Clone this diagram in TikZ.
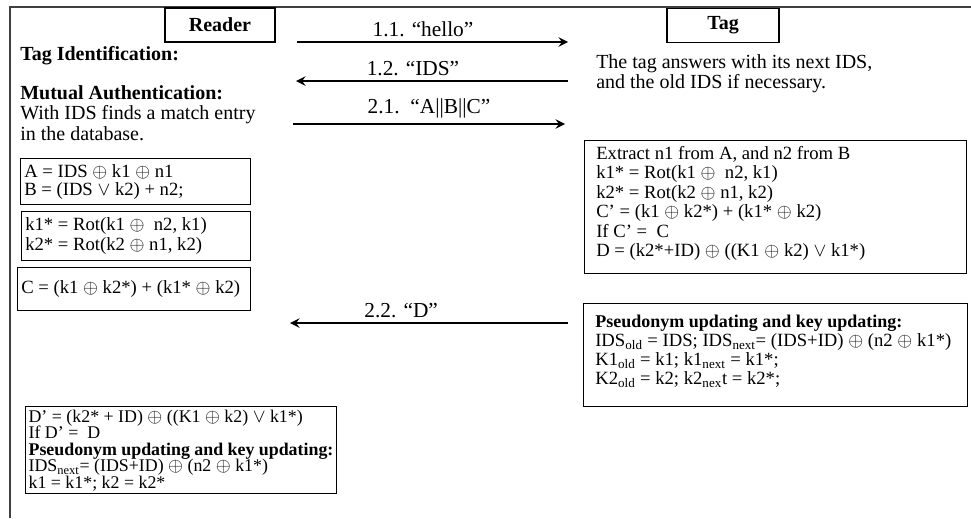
\documentclass[tikz,border=0pt]{standalone}
\usepackage{fontspec}
\setmainfont{Liberation Serif}
\usetikzlibrary{positioning,arrows}

\begin{document}
\begin{tikzpicture}[x=0.75pt, y=-0.75pt, >=stealth,
    actor/.style={draw, line width=0.8pt, minimum width=82.5pt,
      minimum height=25.5pt, font=\fontsize{15}{18}\selectfont\bfseries},
    msg/.style={->, line width=2.1pt},
    lbl/.style={above=2pt, inner sep=1pt, font=\fontsize{16}{18}\selectfont},
    note/.style={anchor=north west, align=left, inner sep=0pt,
      font=\fontsize{15}{15.4}\selectfont},
    panel/.style={draw, line width=0.8pt, anchor=north west, inner sep=0pt},
    calctext/.style={align=left, inner sep=0pt, font=\fontsize{14}{15}\selectfont,
      execute at begin node={\lineskiplimit=-10pt}}]

  \useasboundingbox (0,0) rectangle (971,518);
  \draw[black!75, line width=0.9pt] (10,518) -- (10,7) -- (971,7);

  \node[actor] (R) at (220,25) {Reader};
  \node[actor, minimum width=84pt] (T) at (723,25.5) {Tag};

  \coordinate (r1) at (297,42);  \coordinate (t1) at (568,42);
  \coordinate (r2) at (296,81);  \coordinate (t2) at (568,81);
  \coordinate (r3) at (293,124); \coordinate (t3) at (565,124);
  \coordinate (r4) at (290,323); \coordinate (t4) at (568,323);

  \draw[msg] (r1) -- node[lbl, pos=0.465] (m1) {1.1. “hello”} (t1);
  \draw[msg] (t2) -- node[lbl, pos=0.57] (m2) {1.2. “IDS”} (r2);
  \draw[msg] (r3) -- node[lbl, pos=0.5] (m3) {2.1.\ \ “A||B||C”} (t3);
  \draw[msg] (t4) -- node[lbl, pos=0.6] (m4) {2.2. “D”} (r4);

  % reader side
  \node[note, anchor=west] (tid) at (20,56) {\bfseries Tag Identification:};
  \node[note] (mutual) at (20,85) {\textbf{Mutual Authentication:}\\
    With IDS finds a match entry\\in the database.};

  \node[panel, minimum width=172.5pt, minimum height=34.5pt] (hide) at (20,158) {};
  \node[calctext, font=\fontsize{14}{13.5}\selectfont, right=3pt of hide.west] (hidetext)
    {A = IDS $\oplus$ k1 $\oplus$ n1\\B = (IDS $\vee$ k2) + n2;};
  \node[panel, minimum width=171.75pt, minimum height=36.75pt] (keys) at (21,211) {};
  \node[calctext, right=3pt of keys.west] (keystext)
    {k1* = Rot(k1 $\oplus$\ \ n2, k1)\\k2* = Rot(k2 $\oplus$ n1, k2)};
  \node[panel, minimum width=174.75pt, minimum height=32.25pt] (cval) at (17,267) {};
  \node[calctext, right=3pt of cval.west] (cvaltext)
    {C = (k1 $\oplus$ k2*) + (k1* $\oplus$ k2)};

  \node[panel, minimum width=233.25pt, minimum height=65.25pt] (verify) at (25,406) {};
  \node[calctext, font=\fontsize{13.4}{12.4}\selectfont,
    below right=2.5pt and 2.5pt of verify.north west] (verifytext)
    {D’ = (k2* + ID) $\oplus$ ((K1 $\oplus$ k2) $\vee$ k1*)\\
     If D’ =\ \ D\\
     \textbf{Pseudonym updating and key updating:}\\
     IDS\textsubscript{next}= (IDS+ID) $\oplus$ (n2 $\oplus$ k1*)\\
     k1 = k1*; k2 = k2*};

  % tag side
  \node[note] (answer) at (596,54) {The tag answers with its next IDS,\\
    and the old IDS if necessary.};

  \node[panel, minimum width=286.5pt, minimum height=99.75pt] (check) at (584,140) {};
  \node[calctext, font=\fontsize{14}{14.6}\selectfont,
    below right=4.5pt and 9pt of check.north west] (checktext)
    {Extract n1 from A, and n2 from B\\
     k1* = Rot(k1 $\oplus$\ \ n2, k1)\\
     k2* = Rot(k2 $\oplus$ n1, k2)\\
     C’ = (k1 $\oplus$ k2*) + (k1* $\oplus$ k2)\\
     If C’ =\ \ C\\
     D = (k2*+ID) $\oplus$ ((K1 $\oplus$ k2) $\vee$ k1*)};

  \node[panel, minimum width=288pt, minimum height=77.25pt] (update) at (583,303) {};
  \node[calctext, font=\fontsize{14}{14.3}\selectfont,
    below right=8.5pt and 9pt of update.north west] (updatetext)
    {{\fontsize{13.5}{14.3}\selectfont\bfseries Pseudonym updating and key updating:}\\
     IDS\textsubscript{old} = IDS; IDS\textsubscript{next}= (IDS+ID) $\oplus$ (n2 $\oplus$ k1*)\\
     K1\textsubscript{old} = k1; k1\textsubscript{next} = k1*;\\
     K2\textsubscript{old} = k2; k2\textsubscript{nex}t = k2*;};
\end{tikzpicture}
\end{document}
